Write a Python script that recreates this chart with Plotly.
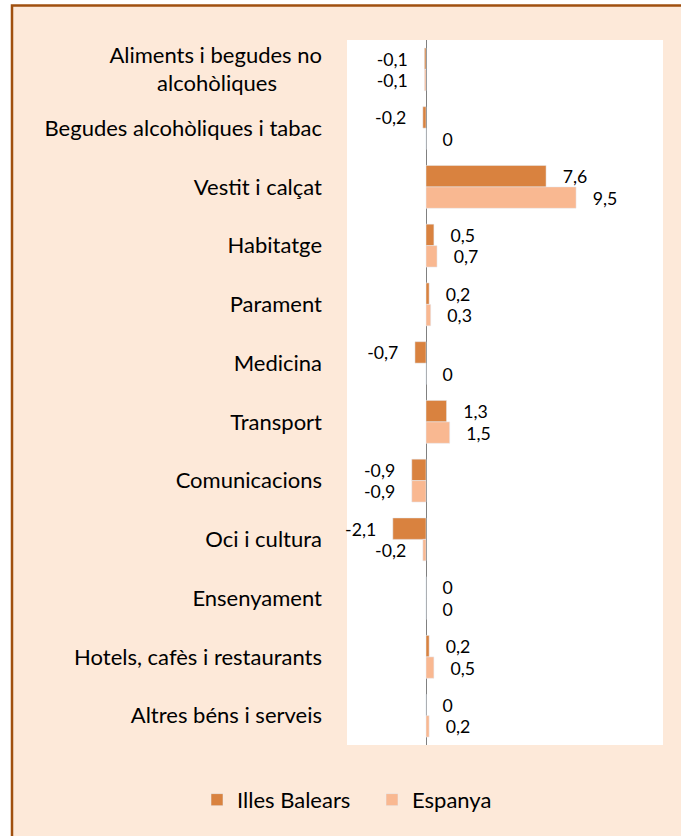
import plotly.graph_objects as go

categories = [
    "Aliments i begudes no<br>alcohòliques" + "\u00a0" * 8,
    "Begudes alcohòliques i tabac",
    "Vestit i calçat",
    "Habitatge",
    "Parament",
    "Medicina",
    "Transport",
    "Comunicacions",
    "Oci i cultura",
    "Ensenyament",
    "Hotels, cafès i restaurants",
    "Altres béns i serveis",
]
illes_balears = [-0.1, -0.2, 7.6, 0.5, 0.2, -0.7, 1.3, -0.9, -2.1, 0, 0.2, 0]
espanya = [-0.1, 0, 9.5, 0.7, 0.3, 0, 1.5, -0.9, -0.2, 0, 0.5, 0.2]

PAD = "\u00a0" * 3


def fmt(v):
    s = ("%g" % v).replace(".", ",")
    return (s + PAD) if v < 0 else (PAD + s)


fig = go.Figure()
fig.add_trace(go.Bar(
    name="Illes Balears", y=categories, x=illes_balears, orientation="h",
    marker=dict(color="#D9823F"),
    text=[fmt(v) for v in illes_balears], textposition="outside",
    textfont=dict(size=19, color="#000000"), cliponaxis=False,
))
fig.add_trace(go.Bar(
    name="Espanya", y=categories, x=espanya, orientation="h",
    marker=dict(color="#F9B891"),
    text=[fmt(v) for v in espanya], textposition="outside",
    textfont=dict(size=19, color="#000000"), cliponaxis=False,
))

PL, PR, PT, PB = 347, 663, 40, 745
W = PR - PL
H = PB - PT

fig.update_layout(
    width=681, height=836,
    barmode="group", bargap=0.27, bargroupgap=0,
    paper_bgcolor="#FFFFFF", plot_bgcolor="#FFFFFF",
    margin=dict(l=PL, r=681 - PR, t=PT, b=836 - PB),
    font=dict(family="Lato, Open Sans, sans-serif", size=22, color="#000000"),
    showlegend=True,
    legend=dict(orientation="h", x=(197 - PL) / W, xanchor="left", y=-0.048, yanchor="top",
                font=dict(size=22), bgcolor="rgba(0,0,0,0)", traceorder="normal",
                entrywidth=130),
)
fig.update_xaxes(range=[-5, 15], showticklabels=False, showgrid=False,
                 zeroline=True, zerolinecolor="#808080", zerolinewidth=1,
                 ticks="", showline=False)
fig.update_yaxes(autorange="reversed", showgrid=False, ticks="",
                 ticklabelstandoff=24, tickfont=dict(size=22))

# chart frame (peach area with brown border), then white plot area on top
fig.add_shape(type="rect", xref="paper", yref="paper", layer="below",
              x0=(12 - PL) / W, x1=2, y0=-1, y1=(PB - 5.5) / H,
              fillcolor="#FDE9D9", line=dict(color="#A0500F", width=2.5))
fig.add_shape(type="rect", xref="paper", yref="paper", layer="below",
              x0=0, x1=1, y0=0, y1=1,
              fillcolor="#FFFFFF", line=dict(width=0))

fig.write_html("out.html", config={"displayModeBar": False},
               post_script="document.body.style.margin='0';document.body.style.overflow='hidden';")
